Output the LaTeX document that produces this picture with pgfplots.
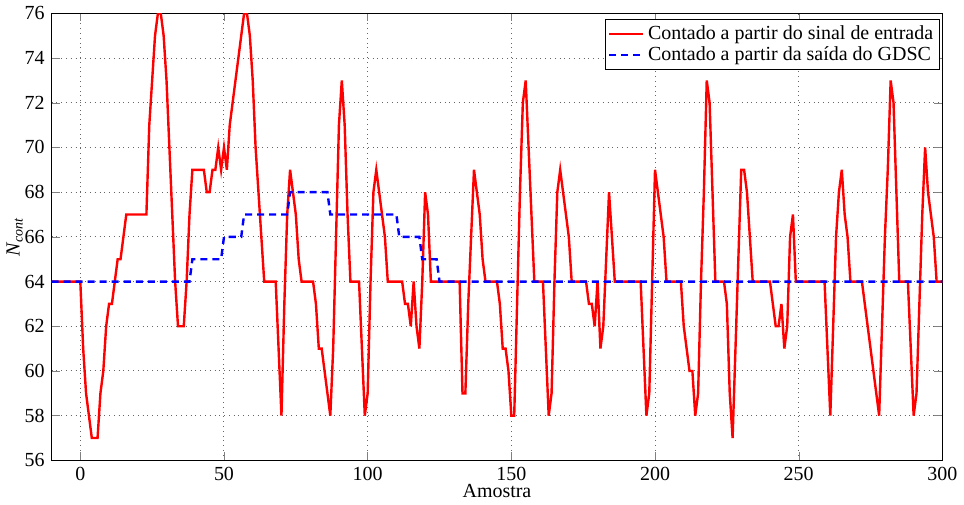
\documentclass[border=0pt]{standalone}
\usepackage{fontspec}
\setmainfont{Liberation Serif}
\usepackage{pgfplots}
\pgfplotsset{compat=1.18}

\begin{document}
\begin{tikzpicture}
\begin{axis}[
  scale only axis, width=444.4bp, height=223bp,
  xmin=-10, xmax=300, ymin=56, ymax=76,
  xtick={0,50,...,300}, ytick={56,58,...,76},
  /pgf/number format/assume math mode=true,
  xticklabel={\pgfmathprintnumber[assume math mode=true]{\tick}},
  yticklabel={\pgfmathprintnumber[assume math mode=true]{\tick}},
  tick label style={font=\normalsize},
  tick align=inside, major tick length=4bp,
  grid=major, major grid style={dotted, black!60, line width=0.5pt},
  axis line style={line width=0.6pt},
  xlabel={Amostra}, ylabel={\textit{N}\textsubscript{\textit{cont}}},
  xlabel style={yshift=5bp}, ylabel style={yshift=-6bp},
  legend style={at={(0.997,0.987)}, anchor=north east, draw=black,
    font=\normalsize, inner sep=1pt, row sep=-2pt, line width=0.6pt},
  legend cell align=left,
]
\addplot[red, line width=1.2pt] coordinates {
(-10,64)(0,64)(1,61)(2,59)(3,58)(4,57)(5,57)(6,57)(7,59)(8,60)(9,62)(10,63)(11,63)(12,64)
(13,65)(14,65)(15,66)(16,67)(23,67)(24,71)(25,73)(26,75)(27,76)(28,76)(29,75)(30,73)(31,70)
(32,67)(33,64)(34,62)(36,62)(37,64)(38,67)(39,69)(43,69)(44,68)(45,68)(46,69)(47,69)(48,70)
(49,69)(50,70)(51,69)(52,71)(53,72)(54,73)(55,74)(56,75)(57,76)(58,76)(59,75)(60,73)(61,70)
(62,68)(63,66)(64,64)(68,64)(69,61)(70,58)(71,63)(72,67)(73,69)(74,68)(75,67)(76,65)(77,64)
(81,64)(82,63)(83,61)(84,61)(85,60)(86,59)(87,58)(88,61)(89,66)(90,71)(91,73)(92,71)(93,67)
(94,64)(97,64)(98,61)(99,58)(100,59)(101,64)(102,68)(103,69)(104,68)(105,67)(106,66)(107,64)
(112,64)(113,63)(114,63)(115,62)(116,64)(117,62)(118,61)(119,64)(120,68)(121,67)(122,64)
(132,64)(133,59)(134,59)(135,63)(136,66)(137,69)(138,68)(139,67)(140,65)(141,64)(145,64)
(146,63)(147,61)(148,61)(149,60)(150,58)(151,58)(152,63)(153,68)(154,72)(155,73)(156,70)
(157,67)(158,64)(161,64)(162,61)(163,58)(164,59)(165,64)(166,68)(167,69)(168,68)(169,67)
(170,66)(171,64)(176,64)(177,63)(178,63)(179,62)(180,64)(181,61)(182,62)(183,65)(184,68)
(185,66)(186,64)(195,64)(196,61)(197,58)(198,59)(199,64)(200,69)(201,68)(202,67)(203,66)
(204,64)(209,64)(210,62)(211,61)(212,60)(213,60)(214,58)(215,59)(216,64)(217,68)(218,73)
(219,72)(220,68)(221,64)(224,64)(225,63)(226,59)(227,57)(228,61)(229,65)(230,69)(231,69)
(232,68)(233,66)(234,64)(240,64)(241,63)(242,62)(243,62)(244,63)(245,61)(246,62)(247,66)
(248,67)(249,64)(259,64)(260,61)(261,58)(262,62)(263,66)(264,68)(265,69)(266,67)(267,66)
(268,64)(272,64)(273,63)(274,62)(275,61)(276,60)(277,59)(278,58)(279,62)(280,66)(281,69)
(282,73)(283,72)(284,68)(285,64)(288,64)(289,61)(290,58)(291,59)(292,63)(293,67)(294,70)
(295,68)(296,67)(297,66)(298,64)(300,64)};
\addlegendentry{Contado a partir do sinal de entrada}
\addplot[blue, line width=1.2pt, dash pattern=on 3.5bp off 2.5bp] coordinates {
(-10,64)(38,64)(39,65)(49,65)(50,66)(56,66)(57,67)(72,67)(73,68)(86,68)(87,67)(110,67)
(111,66)(118,66)(119,65)(124,65)(125,64)(300,64)};
\addlegendentry{Contado a partir da saída do GDSC}
\end{axis}
\end{tikzpicture}
\end{document}
